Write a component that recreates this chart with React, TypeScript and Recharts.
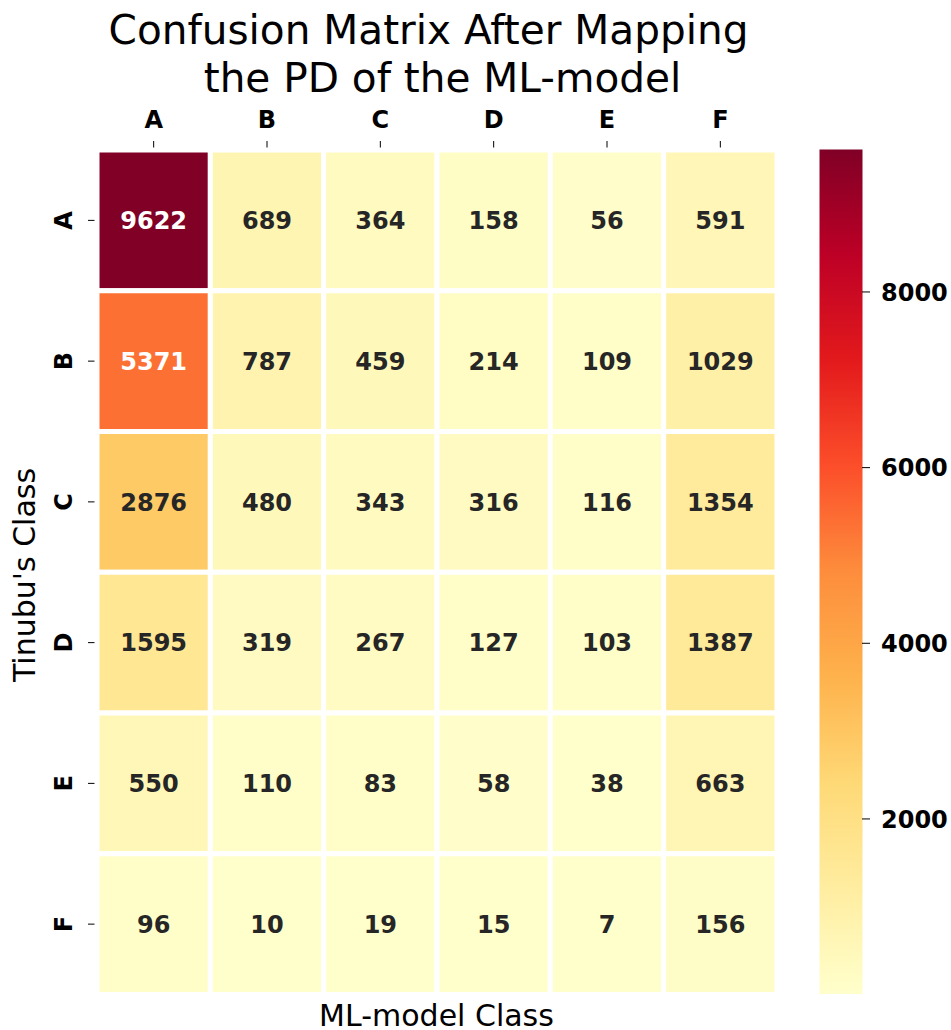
import { ScatterChart, Scatter, XAxis, YAxis, BarChart, Bar } from "recharts";

const FONT = "DejaVu Sans";

// class labels (ML-model columns, Tinubu rows)
const mlClasses = ["A", "B", "C", "D", "E", "F"];
const tinubuClasses = ["A", "B", "C", "D", "E", "F"];

// counts per Tinubu class row, columns = ML-model class
const rowA = [9622, 689, 364, 158, 56, 591];
const rowB = [5371, 787, 459, 214, 109, 1029];
const rowC = [2876, 480, 343, 316, 116, 1354];
const rowD = [1595, 319, 267, 127, 103, 1387];
const rowE = [550, 110, 83, 58, 38, 663];
const rowF = [96, 10, 19, 15, 7, 156];
const matrixRows = [rowA, rowB, rowC, rowD, rowE, rowF];

const colorbarTicks = [2000, 4000, 6000, 8000];

// YlOrRd (colorbrewer 9)
const ylOrRd = [
  [255, 255, 204],
  [255, 237, 160],
  [254, 217, 118],
  [254, 178, 76],
  [253, 141, 60],
  [252, 78, 42],
  [227, 26, 28],
  [189, 0, 38],
  [128, 0, 38],
];

const allValues = matrixRows.flat();
const VMIN = Math.min(...allValues);
const VMAX = Math.max(...allValues);

function cmap(v: number): number[] {
  const t = Math.max(0, Math.min(1, (v - VMIN) / (VMAX - VMIN)));
  const p = t * (ylOrRd.length - 1);
  const i = Math.min(Math.floor(p), ylOrRd.length - 2);
  const f = p - i;
  return ylOrRd[i].map((c, k) => c + (ylOrRd[i + 1][k] - c) * f);
}

const toHex = (rgb: number[]) =>
  "#" + rgb.map((c) => Math.round(c).toString(16).padStart(2, "0")).join("");

function luminance(rgb: number[]) {
  const lin = rgb.map((c) => {
    const s = c / 255;
    return s <= 0.03928 ? s / 12.92 : Math.pow((s + 0.055) / 1.055, 2.4);
  });
  return 0.2126 * lin[0] + 0.7152 * lin[1] + 0.0722 * lin[2];
}

const cells = matrixRows.flatMap((row, r) =>
  row.map((v, c) => ({ x: c + 0.5, y: r + 0.5, v }))
);

const W = 951;
const H = 1030;
const PLOT_LEFT = 97;
const PLOT_RIGHT = 777;
const PLOT_TOP = 150;
const PLOT_BOTTOM = 994.5;
const CELL_W = (PLOT_RIGHT - PLOT_LEFT) / mlClasses.length;
const CELL_H = (PLOT_BOTTOM - PLOT_TOP) / tinubuClasses.length;

function HeatCell(props: any) {
  const { cx, cy, payload } = props;
  const rgb = cmap(payload.v);
  const textColor = luminance(rgb) > 0.408 ? "#262626" : "#ffffff";
  return (
    <g>
      <rect
        x={cx - CELL_W / 2}
        y={cy - CELL_H / 2}
        width={CELL_W}
        height={CELL_H}
        fill={toHex(rgb)}
        stroke="#ffffff"
        strokeWidth={5}
      />
      <text
        x={cx}
        y={cy}
        dy="0.36em"
        textAnchor="middle"
        fontFamily={FONT}
        fontWeight="bold"
        fontSize={24}
        fill={textColor}
      >
        {payload.v}
      </text>
    </g>
  );
}

function TopTick(props: any) {
  const { x, y, payload } = props;
  return (
    <text
      x={x}
      y={y - 13}
      textAnchor="middle"
      fontFamily={FONT}
      fontWeight="bold"
      fontSize={24}
      fill="#000"
    >
      {mlClasses[Math.floor(payload.value)]}
    </text>
  );
}

function LeftTick(props: any) {
  const { x, y, payload } = props;
  return (
    <text
      transform={`translate(${x - 16},${y}) rotate(-90)`}
      textAnchor="middle"
      fontFamily={FONT}
      fontWeight="bold"
      fontSize={24}
      fill="#000"
    >
      {tinubuClasses[Math.floor(payload.value)]}
    </text>
  );
}

function BarTick(props: any) {
  const { x, y, payload } = props;
  return (
    <text
      x={x}
      y={y}
      dy="0.36em"
      textAnchor="start"
      fontFamily={FONT}
      fontWeight="bold"
      fontSize={24}
      fill="#000"
    >
      {payload.value}
    </text>
  );
}

const centerTicks = mlClasses.map((_, i) => i + 0.5);
const colorbarData = [{ name: "cb", range: [VMIN, VMAX] }];

export default function App() {
  return (
    <div
      style={{
        position: "absolute",
        left: 0,
        top: 0,
        width: W,
        height: H,
        overflow: "hidden",
        background: "#fff",
      }}
    >
      <div style={{ position: "absolute", left: 0, top: 0 }}>
        <ScatterChart
          width={W}
          height={H}
          margin={{ top: PLOT_TOP - 50, right: W - PLOT_RIGHT, bottom: H - PLOT_BOTTOM, left: PLOT_LEFT - 60 }}
        >
          <XAxis
            type="number"
            dataKey="x"
            orientation="top"
            domain={[0, 6]}
            ticks={centerTicks}
            interval={0}
            height={50}
            axisLine={false}
            tickSize={9}
            tickMargin={0}
            tickLine={{ stroke: "#000" }}
            tick={<TopTick />}
          />
          <YAxis
            type="number"
            dataKey="y"
            domain={[0, 6]}
            reversed
            ticks={centerTicks}
            interval={0}
            width={60}
            axisLine={false}
            tickSize={9}
            tickMargin={0}
            tickLine={{ stroke: "#000" }}
            tick={<LeftTick />}
          />
          <Scatter data={cells} shape={<HeatCell />} isAnimationActive={false} />
        </ScatterChart>
      </div>
      <div style={{ position: "absolute", left: 0, top: 0 }}>
        <BarChart
          width={W}
          height={H}
          data={colorbarData}
          margin={{ top: 149.5, right: 0, bottom: 36, left: 819.5 }}
          barCategoryGap={0}
        >
          <defs>
            <linearGradient id="cbGrad" x1="0" y1="1" x2="0" y2="0">
              {ylOrRd.map((c, i) => (
                <stop key={i} offset={i / (ylOrRd.length - 1)} stopColor={toHex(c)} />
              ))}
            </linearGradient>
          </defs>
          <XAxis dataKey="name" hide />
          <YAxis
            orientation="right"
            type="number"
            domain={[VMIN, VMAX]}
            ticks={colorbarTicks}
            interval={0}
            width={89}
            axisLine={false}
            tickSize={8}
            tickMargin={11}
            tickLine={{ stroke: "#000" }}
            tick={<BarTick />}
          />
          <Bar dataKey="range" fill="url(#cbGrad)" isAnimationActive={false} />
        </BarChart>
      </div>
      <svg
        width={W}
        height={H}
        style={{ position: "absolute", left: 0, top: 0, pointerEvents: "none" }}
      >
        <text x={428.5} y={43.5} textAnchor="middle" fontFamily={FONT} fontSize={40.6} fill="#000">
          Confusion Matrix After Mapping
        </text>
        <text x={442.5} y={91.5} textAnchor="middle" fontFamily={FONT} fontSize={40.6} fill="#000">
          the PD of the ML-model
        </text>
        <text x={436.5} y={1025.5} textAnchor="middle" fontFamily={FONT} fontSize={30} fill="#000">
          ML-model Class
        </text>
        <text
          transform="translate(35,575) rotate(-90)"
          textAnchor="middle"
          fontFamily={FONT}
          fontSize={30}
          fill="#000"
        >
          Tinubu's Class
        </text>
      </svg>
    </div>
  );
}
